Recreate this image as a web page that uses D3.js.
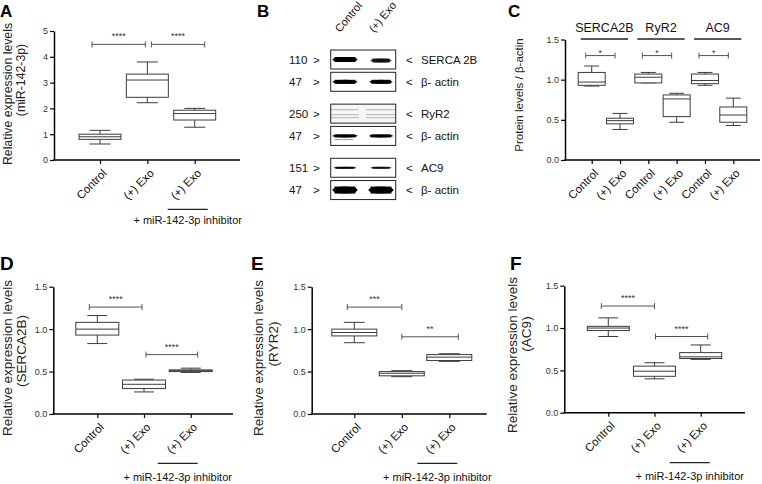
<!DOCTYPE html>
<html>
<head>
<meta charset="utf-8">
<script src="https://cdn.jsdelivr.net/npm/d3@7"></script>
<style>
  body { margin: 0; background: #fff; }
  svg { display: block; }
</style>
</head>
<body>
<svg id="fig" width="762" height="484"></svg>
<script>
// ---- data ----
// five-number summaries: [min, q1, median, q3, max]
const labels3 = ["Control", "(+) Exo", "(+) Exo"];
const mir142 = [[0.62, 0.80, 0.90, 1.00, 1.15], [2.22, 2.43, 3.10, 3.33, 3.80], [1.27, 1.55, 1.80, 1.93, 2.00]];
const serca2b = [[0.83, 0.93, 1.00, 1.08, 1.16], [0.26, 0.30, 0.35, 0.40, 0.41], [0.49, 0.50, 0.51, 0.52, 0.54]];
const ryr2 = [[0.84, 0.92, 0.96, 1.00, 1.08], [0.44, 0.45, 0.48, 0.50, 0.51], [0.62, 0.63, 0.67, 0.70, 0.71]];
const ac9 = [[0.90, 0.97, 1.00, 1.02, 1.12], [0.40, 0.43, 0.49, 0.55, 0.59], [0.63, 0.64, 0.66, 0.71, 0.80]];

const labelsC = ["Control", "(+) Exo", "Control", "(+) Exo", "Control", "(+) Exo"];
const groupsC = ["SERCA2B", "RyR2", "AC9"];
const proteinC = [[0.92, 0.93, 0.97, 1.09, 1.17], [0.38, 0.45, 0.49, 0.52, 0.58],
                  [0.96, 0.96, 1.03, 1.07, 1.09], [0.47, 0.54, 0.76, 0.81, 0.83],
                  [0.93, 0.95, 0.99, 1.07, 1.09], [0.43, 0.47, 0.56, 0.66, 0.77]];

// significance: [from, to, level, stars]
const sigA = [[0, 1, 4.48, "****"], [1, 2, 4.48, "****"]];
const sigC = [[0, 1, 1.30, "*"], [2, 3, 1.30, "*"], [4, 5, 1.30, "*"]];
const sigD = [[0, 1, 1.26, "****"], [1, 2, 0.70, "****"]];
const sigE = [[0, 1, 1.26, "***"], [1, 2, 0.91, "**"]];
const sigF = [[0, 1, 1.26, "****"], [1, 2, 0.90, "****"]];

const ticks5 = [0, 1, 2, 3, 4, 5];
const ticks15 = [0, 0.5, 1.0, 1.5];

// western blot (panel B)
const blotLanes = ["Control", "(+) Exo"];
const blotProteins = ["SERCA 2B", "β- actin", "RyR2", "β- actin", "AC9", "β- actin"];
const blotKDa = ["110", "47", "250", "47", "151", "47"];
const bandCtrl = [1.0, 1.0, 0.25, 1.0, 0.85, 1.0];
const bandExo = [0.75, 0.9, 0.25, 0.95, 0.75, 1.0];

// ---- drawing ----
const svg = d3.select("#fig");
const font = "'Liberation Sans', Arial, Helvetica, sans-serif";
svg.attr("font-family", font);

function boxPanel(o) {
  const g = svg.append("g");
  const y = d3.scaleLinear().domain(d3.extent(o.ticks)).range([o.yBot, o.yTop]);
  const x = d3.scalePoint().domain(d3.range(o.stats.length)).range(o.xr);

  const ya = g.append("g").attr("transform", `translate(${o.x0},0)`)
    .call(d3.axisLeft(y).tickValues(o.ticks).tickFormat(o.fmt).tickSize(4).tickSizeOuter(0).tickPadding(2));
  ya.select(".domain").attr("stroke-width", 1.5);
  ya.selectAll(".tick line").attr("stroke-width", 1.2);
  ya.selectAll(".tick text").attr("font-size", 9).attr("font-family", font).attr("fill", "#333");

  g.append("line")
    .attr("x1", o.x0 - 0.75).attr("x2", o.x1).attr("y1", o.yBot).attr("y2", o.yBot)
    .attr("stroke", "#000").attr("stroke-width", 1.5);
  const xa = g.append("g").attr("transform", `translate(0,${o.yBot})`)
    .call(d3.axisBottom(x).tickFormat(i => o.labels[i]).tickSize(4).tickSizeOuter(0));
  xa.select(".domain").remove();
  xa.selectAll(".tick line").attr("stroke-width", 1.2);
  xa.selectAll(".tick text")
    .attr("font-size", 11.5).attr("font-family", font).attr("fill", "#111")
    .attr("text-anchor", "end").attr("y", 0).attr("dy", "0.35em")
    .attr("transform", "translate(4,11) rotate(-45)");

  // boxes
  const bw = o.boxW, cw = o.capW;
  const b = g.selectAll(".box").data(o.stats).join("g")
    .attr("class", "box").attr("stroke", "#3c3c3c").attr("stroke-width", 1);
  b.append("line").attr("x1", (d, i) => x(i)).attr("x2", (d, i) => x(i))
    .attr("y1", d => y(d[0])).attr("y2", d => y(d[1]));
  b.append("line").attr("x1", (d, i) => x(i)).attr("x2", (d, i) => x(i))
    .attr("y1", d => y(d[3])).attr("y2", d => y(d[4]));
  b.append("line").attr("x1", (d, i) => x(i) - cw / 2).attr("x2", (d, i) => x(i) + cw / 2)
    .attr("y1", d => y(d[0])).attr("y2", d => y(d[0]));
  b.append("line").attr("x1", (d, i) => x(i) - cw / 2).attr("x2", (d, i) => x(i) + cw / 2)
    .attr("y1", d => y(d[4])).attr("y2", d => y(d[4]));
  b.append("rect").attr("x", (d, i) => x(i) - bw / 2).attr("width", bw)
    .attr("y", d => y(d[3])).attr("height", d => Math.max(1, y(d[1]) - y(d[3])))
    .attr("fill", "#fff");
  b.append("line").attr("x1", (d, i) => x(i) - bw / 2).attr("x2", (d, i) => x(i) + bw / 2)
    .attr("y1", d => y(d[2])).attr("y2", d => y(d[2]));

  // significance brackets
  o.sigs.forEach((s, k) => {
    const off = o.sigOff[k % o.sigOff.length];
    const x1 = x(s[0]) + off[0], x2 = x(s[1]) + off[1], yy = y(s[2]);
    const sg = g.append("g").attr("stroke", "#555").attr("stroke-width", 1);
    sg.append("line").attr("x1", x1).attr("x2", x2).attr("y1", yy).attr("y2", yy);
    sg.append("line").attr("x1", x1).attr("x2", x1).attr("y1", yy - 3).attr("y2", yy + 3);
    sg.append("line").attr("x1", x2).attr("x2", x2).attr("y1", yy - 3).attr("y2", yy + 3);
    g.append("text").attr("x", (x1 + x2) / 2).attr("y", yy - o.starDy)
      .attr("text-anchor", "middle").attr("font-size", 9).attr("fill", "#333").text(s[3]);
  });

  // y title (two lines)
  o.ylab.forEach((t, k) => {
    g.append("text")
      .attr("transform", `translate(${o.ylabX[k]},${o.ylabY[k]}) rotate(-90)`)
      .attr("text-anchor", "middle").attr("font-size", o.ylabSize).attr("fill", "#222").text(t);
  });

  // inhibitor bar
  if (o.inhib) {
    const cx = x(2) + o.inhib.dx;
    g.append("line").attr("x1", cx - 20).attr("x2", cx + 20)
      .attr("y1", o.inhib.y).attr("y2", o.inhib.y).attr("stroke", "#222").attr("stroke-width", 1.2);
    g.append("text").attr("x", cx).attr("y", o.inhib.y + o.inhib.ty)
      .attr("text-anchor", "middle").attr("font-size", 11).attr("fill", "#111")
      .text("+ miR-142-3p inhibitor");
  }

  g.append("text").attr("x", o.letter[1]).attr("y", o.letter[2])
    .attr("font-size", o.letter[3]).attr("font-weight", "bold")
    .text(o.letter[0]);
  return { g, x, y };
}

const fmt0 = d3.format("d"), fmt1 = d3.format(".1f");

// Panel A
boxPanel({
  x0: 54, x1: 240, yTop: 31, yBot: 160, ticks: ticks5, fmt: fmt0,
  xr: [100, 194.7], stats: mir142, labels: labels3, boxW: 42, capW: 21,
  sigs: sigA, sigOff: [[-8, -2], [4, 10]], starDy: 5,
  ylab: ["Relative expression levels", "(miR-142-3p)"], ylabX: [11.5, 25], ylabY: [94, 80], ylabSize: 12.3,
  inhib: { dx: -7, y: 209.3, ty: 15 }, letter: ["A", 0, 17, 17]
});

// Panel C
const pc = boxPanel({
  x0: 565, x1: 760, yTop: 39.5, yBot: 160, ticks: ticks15, fmt: fmt1,
  xr: [591.7, 733.3], stats: proteinC, labels: labelsC, boxW: 27, capW: 15,
  sigs: sigC, sigOff: [[-6, -5]], starDy: 0,
  ylab: ["Protein levels / β-actin"], ylabX: [523], ylabY: [95], ylabSize: 11.5,
  inhib: null, letter: ["C", 508, 17, 17]
});
groupsC.forEach((name, k) => {
  const xa = pc.x(2 * k), xb = pc.x(2 * k + 1);
  pc.g.append("line").attr("x1", xa - 11).attr("x2", xb + 8)
    .attr("y1", 39).attr("y2", 39).attr("stroke", "#222").attr("stroke-width", 1.5);
  pc.g.append("text").attr("x", (xa + xb) / 2 - 1.5).attr("y", 31.5)
    .attr("text-anchor", "middle").attr("font-size", 12.5).attr("fill", "#111").text(name);
});

// Panel D
boxPanel({
  x0: 53.3, x1: 233, yTop: 286.7, yBot: 414, ticks: ticks15, fmt: fmt1,
  xr: [97.3, 190.7], stats: serca2b, labels: labels3, boxW: 43, capW: 20,
  sigs: sigD, sigOff: [[-8, -2], [2, 7]], starDy: 5,
  ylab: ["Relative expression levels", "(SERCA2B)"], ylabX: [12, 26], ylabY: [358, 351], ylabSize: 13.5,
  inhib: { dx: -13, y: 463.3, ty: 17.5 }, letter: ["D", 0, 270, 19]
});

// Panel E
boxPanel({
  x0: 311.7, x1: 486.7, yTop: 286.7, yBot: 414, ticks: ticks15, fmt: fmt1,
  xr: [354.3, 449.3], stats: ryr2, labels: labels3, boxW: 45, capW: 21,
  sigs: sigE, sigOff: [[-7, 0], [0, 9]], starDy: 5,
  ylab: ["Relative expression levels", "(RYR2)"], ylabX: [263, 278], ylabY: [358, 344], ylabSize: 13.5,
  inhib: { dx: -12, y: 463.3, ty: 17.5 }, letter: ["E", 251, 270, 19]
});

// Panel F
boxPanel({
  x0: 564.3, x1: 745, yTop: 285.7, yBot: 412.7, ticks: ticks15, fmt: fmt1,
  xr: [608.3, 700.7], stats: ac9, labels: labels3, boxW: 42, capW: 20,
  sigs: sigF, sigOff: [[-7, 0], [1, 7]], starDy: 5,
  ylab: ["Relative expression levels", "(AC9)"], ylabX: [517, 531], ylabY: [355, 334], ylabSize: 13.5,
  inhib: { dx: -11, y: 462.7, ty: 17.5 }, letter: ["F", 510, 270, 19]
});

// Panel B: western blot
(function () {
  const g = svg.append("g");
  const defs = svg.append("defs");
  defs.append("filter").attr("id", "blur").attr("x", "-20%").attr("y", "-100%").attr("width", "140%").attr("height", "300%")
    .append("feGaussianBlur").attr("stdDeviation", 0.7);

  const pair = d3.scaleBand().domain([0, 1, 2]).range([50, 212.4]);
  const rowY = i => pair(Math.floor(i / 2)) + (i % 2) * 22.3;
  const rowH = 19;
  const lane = d3.scalePoint().domain(blotLanes).range([345, 381]);
  const bandH = [5, 4, 1.2, 3, 2, 7];

  g.append("text").attr("x", 257).attr("y", 17).attr("font-size", 17).attr("font-weight", "bold").text("B");

  blotLanes.forEach((l, k) => {
    g.append("text").attr("transform", `translate(${lane(l) - 5 + (k ? -2 : 0)},33) rotate(-50)`)
      .attr("font-size", 11).attr("fill", "#111").text(l);
  });

  blotProteins.forEach((p, i) => {
    const y0 = rowY(i), cy = y0 + rowH / 2;
    g.append("rect").attr("x", 330.7).attr("y", y0).attr("width", 65).attr("height", rowH)
      .attr("fill", i === 2 ? "#f6f6f6" : "#fff").attr("stroke", "#222").attr("stroke-width", 1);

    const bands = g.append("g").attr("filter", "url(#blur)");
    [bandCtrl[i], bandExo[i]].forEach((v, k) => {
      const cx = lane(blotLanes[k]);
      const w = 10 + 15 * v;
      if (i === 2) {
        [-4, 1, 4].forEach(o => bands.append("rect").attr("x", cx - 15).attr("y", cy + o - 0.6)
          .attr("width", 29).attr("height", bandH[i]).attr("fill", "#222").attr("opacity", v));
      } else {
        const h = bandH[i] * (k && i === 0 ? 0.8 : 1);
        bands.append("ellipse").attr("cx", cx).attr("cy", cy + (i === 0 && k ? 1 : 0))
          .attr("rx", w / 2).attr("ry", h / 2)
          .attr("fill", "#000").attr("opacity", v);
        bands.append("rect").attr("x", cx - w / 2 + 2).attr("y", cy - h / 2 + (i === 0 && k ? 1 : 0))
          .attr("width", w - 4).attr("height", h)
          .attr("fill", "#000").attr("opacity", v);
      }
      if (i === 3 && k === 0) {
        bands.append("rect").attr("x", cx - 10).attr("y", cy + 3).attr("width", 18).attr("height", 1.2)
          .attr("fill", "#000").attr("opacity", 0.35);
      }
    });

    g.append("text").attr("x", 289).attr("y", cy + 4).attr("font-size", 11.5).attr("fill", "#111").text(blotKDa[i]);
    g.append("text").attr("x", 313).attr("y", cy + 4).attr("font-size", 11.5).attr("fill", "#111").text(">");
    g.append("text").attr("x", 406).attr("y", cy + 4).attr("font-size", 11.5).attr("fill", "#111").text("<");
    g.append("text").attr("x", 421).attr("y", cy + 4).attr("font-size", 11.5).attr("fill", "#111").text(p);
  });
})();
</script>
</body>
</html>
